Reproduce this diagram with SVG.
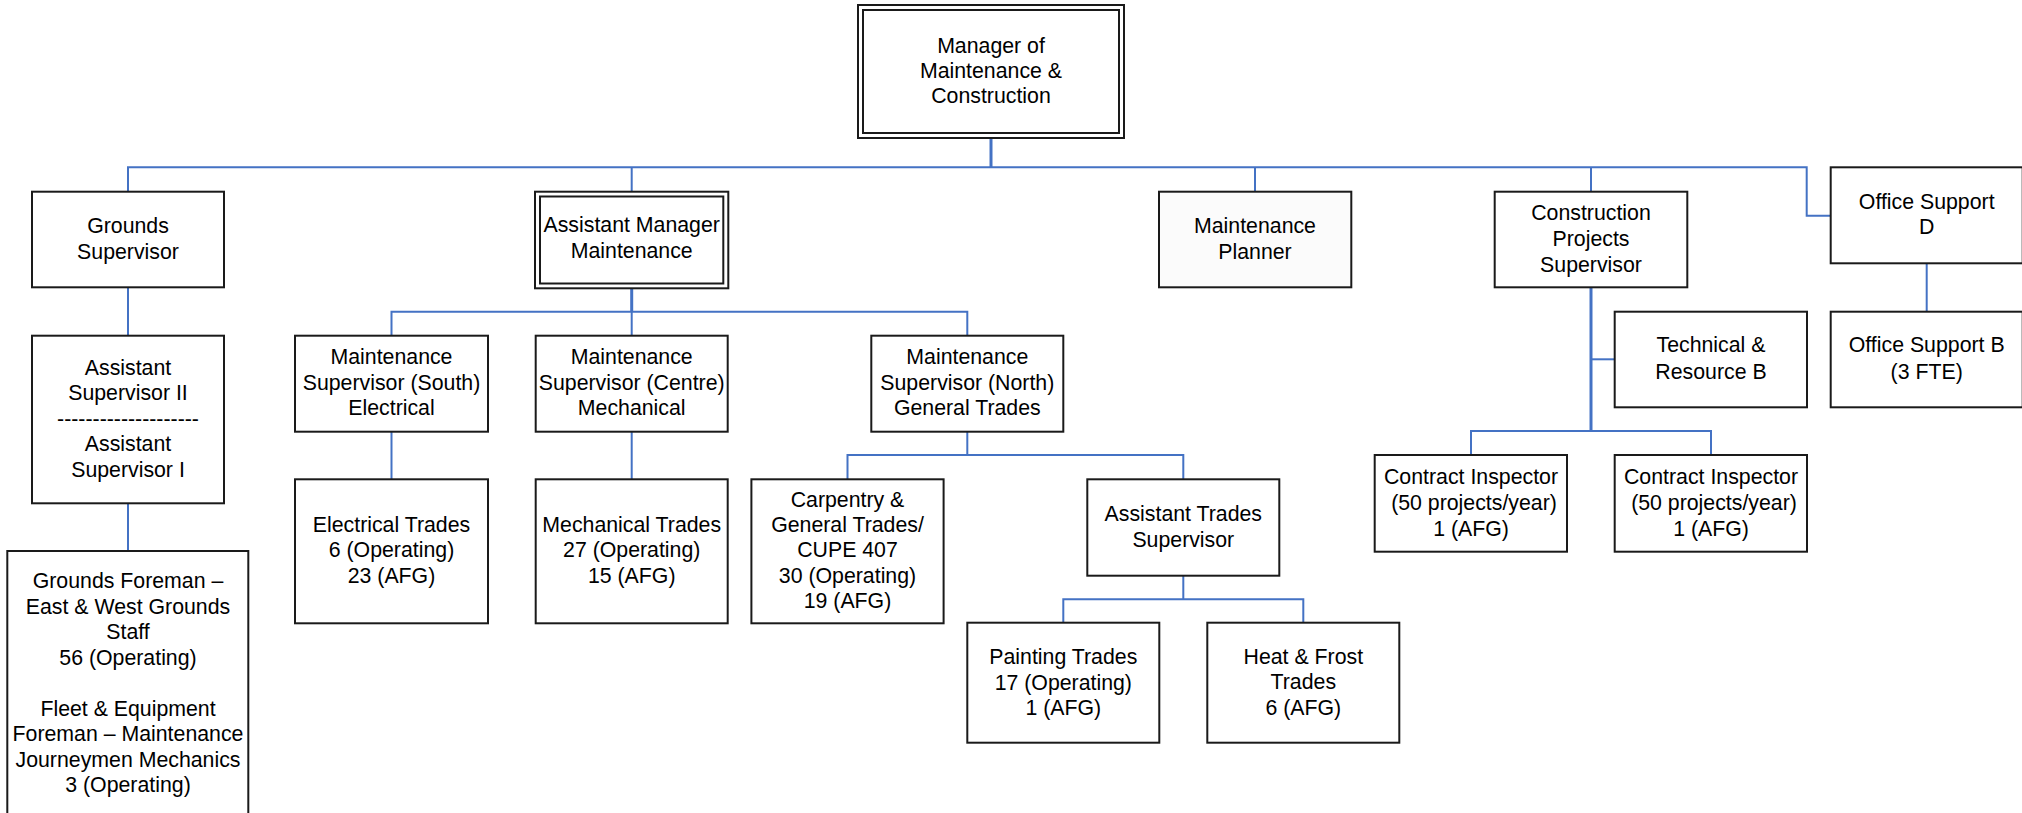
<svg xmlns="http://www.w3.org/2000/svg" width="2022" height="813" viewBox="0 0 2022 813">
<style>
  .box { fill: #ffffff; stroke: #1a1a1a; stroke-width: 2; }
  .planner { fill: #fbfbfb; stroke: #1a1a1a; stroke-width: 2; }
  .t { font-family: "Liberation Sans", Arial, sans-serif; font-size: 21.3px; fill: #000000; text-anchor: middle; }
  .c { fill: none; stroke: #4472C4; stroke-width: 2; }
  .c3 { fill: none; stroke: #4472C4; stroke-width: 3; }
</style>
<rect width="2022" height="813" fill="#ffffff"/>

<g id="connectors">
  <path class="c3" d="M991 138 V167.3"/>
  <path class="c" d="M128 192 V167.3 H1806.7 V215.7 H1830.7"/>
  <path class="c" d="M631.7 167.3 V192"/>
  <path class="c" d="M1255 167.3 V192"/>
  <path class="c" d="M1591 167.3 V192"/>
  <path class="c" d="M128 287.3 V335.7"/>
  <path class="c" d="M128 503.3 V551"/>
  <path class="c3" d="M631.7 288.3 V311.7"/>
  <path class="c" d="M391.5 335.7 V311.7 H967.3 V335.7"/>
  <path class="c" d="M631.7 311.7 V335.7"/>
  <path class="c" d="M391.5 431.7 V479.3"/>
  <path class="c" d="M631.7 431.7 V479.3"/>
  <path class="c" d="M967.3 431.7 V455"/>
  <path class="c" d="M847.5 479.3 V455 H1183.3 V479.3"/>
  <path class="c" d="M1183.3 575.7 V599.3"/>
  <path class="c" d="M1063.3 622.7 V599.3 H1303.3 V622.7"/>
  <path class="c3" d="M1591 287.3 V431"/>
  <path class="c" d="M1591 359.3 H1614.7"/>
  <path class="c" d="M1471 455 V431 H1711 V455"/>
  <path class="c" d="M1926.7 263.3 V311.7"/>
</g>

<g id="manager">
  <rect class="box" x="858" y="5" width="266" height="133"/>
  <rect class="box" x="863" y="10" width="256" height="123"/>
  <text class="t" x="991" y="52.7">Manager of</text>
  <text class="t" x="991" y="78">Maintenance &amp;</text>
  <text class="t" x="991" y="103.3">Construction</text>
</g>

<g id="grounds-supervisor">
  <rect class="box" x="32" y="191.7" width="192" height="95.6"/>
  <text class="t" x="128" y="232.7">Grounds</text>
  <text class="t" x="128" y="258.7">Supervisor</text>
</g>

<g id="assistant-supervisor">
  <rect class="box" x="32" y="335.7" width="192" height="167.6"/>
  <text class="t" x="128" y="374.5">Assistant</text>
  <text class="t" x="128" y="400">Supervisor II</text>
  <text class="t" x="128" y="425.5">--------------------</text>
  <text class="t" x="128" y="451">Assistant</text>
  <text class="t" x="128" y="476.5">Supervisor I</text>
</g>

<g id="grounds-foreman">
  <rect class="box" x="7.3" y="551" width="241" height="290"/>
  <text class="t" x="128" y="588">Grounds Foreman –</text>
  <text class="t" x="128" y="613.5">East &amp; West Grounds</text>
  <text class="t" x="128" y="639">Staff</text>
  <text class="t" x="128" y="664.5">56 (Operating)</text>
  <text class="t" x="128" y="715.5">Fleet &amp; Equipment</text>
  <text class="t" x="128" y="741">Foreman – Maintenance</text>
  <text class="t" x="128" y="766.5">Journeymen Mechanics</text>
  <text class="t" x="128" y="792">3 (Operating)</text>
</g>

<g id="assistant-manager">
  <rect class="box" x="535" y="191.7" width="193.3" height="96.6"/>
  <rect class="box" x="540" y="196.5" width="183.3" height="87"/>
  <text class="t" x="631.7" y="232.3">Assistant Manager</text>
  <text class="t" x="631.7" y="258.3">Maintenance</text>
</g>

<g id="maintenance-planner">
  <rect class="planner" x="1159" y="191.7" width="192.3" height="95.6"/>
  <text class="t" x="1255" y="232.7">Maintenance</text>
  <text class="t" x="1255" y="258.7">Planner</text>
</g>

<g id="construction-supervisor">
  <rect class="box" x="1494.7" y="191.7" width="192.6" height="95.6"/>
  <text class="t" x="1591" y="220">Construction</text>
  <text class="t" x="1591" y="246">Projects</text>
  <text class="t" x="1591" y="271.7">Supervisor</text>
</g>

<g id="office-support-d">
  <rect class="box" x="1830.7" y="167.3" width="192" height="96"/>
  <text class="t" x="1926.7" y="209">Office Support</text>
  <text class="t" x="1926.7" y="234.3">D</text>
</g>

<g id="office-support-b">
  <rect class="box" x="1830.7" y="311.7" width="192" height="95.6"/>
  <text class="t" x="1926.7" y="352.3">Office Support B</text>
  <text class="t" x="1926.7" y="379">(3 FTE)</text>
</g>

<g id="technical-resource">
  <rect class="box" x="1614.7" y="311.7" width="192.3" height="95.6"/>
  <text class="t" x="1711" y="352.3">Technical &amp;</text>
  <text class="t" x="1711" y="379">Resource B</text>
</g>

<g id="contract-inspector-1">
  <rect class="box" x="1374.7" y="455" width="192.3" height="96.7"/>
  <text class="t" x="1471" y="484">Contract Inspector</text>
  <text class="t" x="1474" y="510">(50 projects/year)</text>
  <text class="t" x="1471" y="535.7">1 (AFG)</text>
</g>

<g id="contract-inspector-2">
  <rect class="box" x="1614.7" y="455" width="192.3" height="96.7"/>
  <text class="t" x="1711" y="484">Contract Inspector</text>
  <text class="t" x="1714" y="510">(50 projects/year)</text>
  <text class="t" x="1711" y="535.7">1 (AFG)</text>
</g>

<g id="supervisor-south">
  <rect class="box" x="295" y="335.7" width="193" height="96"/>
  <text class="t" x="391.5" y="364">Maintenance</text>
  <text class="t" x="391.5" y="389.7">Supervisor (South)</text>
  <text class="t" x="391.5" y="415">Electrical</text>
</g>

<g id="supervisor-centre">
  <rect class="box" x="535.7" y="335.7" width="192" height="96"/>
  <text class="t" x="631.7" y="364">Maintenance</text>
  <text class="t" x="631.7" y="389.7">Supervisor (Centre)</text>
  <text class="t" x="631.7" y="415">Mechanical</text>
</g>

<g id="supervisor-north">
  <rect class="box" x="871.3" y="335.7" width="192" height="96"/>
  <text class="t" x="967.3" y="364">Maintenance</text>
  <text class="t" x="967.3" y="389.7">Supervisor (North)</text>
  <text class="t" x="967.3" y="415">General Trades</text>
</g>

<g id="electrical-trades">
  <rect class="box" x="295" y="479.3" width="193" height="144"/>
  <text class="t" x="391.5" y="531.7">Electrical Trades</text>
  <text class="t" x="391.5" y="557.2">6 (Operating)</text>
  <text class="t" x="391.5" y="582.5">23 (AFG)</text>
</g>

<g id="mechanical-trades">
  <rect class="box" x="535.7" y="479.3" width="192" height="144"/>
  <text class="t" x="631.7" y="531.7">Mechanical Trades</text>
  <text class="t" x="631.7" y="557.2">27 (Operating)</text>
  <text class="t" x="631.7" y="582.5">15 (AFG)</text>
</g>

<g id="carpentry">
  <rect class="box" x="751.4" y="479.3" width="192.2" height="144"/>
  <text class="t" x="847.5" y="506.7">Carpentry &amp;</text>
  <text class="t" x="847.5" y="532">General Trades/</text>
  <text class="t" x="847.5" y="557.3">CUPE 407</text>
  <text class="t" x="847.5" y="582.6">30 (Operating)</text>
  <text class="t" x="847.5" y="607.9">19 (AFG)</text>
</g>

<g id="assistant-trades-supervisor">
  <rect class="box" x="1087.3" y="479.3" width="192" height="96.4"/>
  <text class="t" x="1183.3" y="520.7">Assistant Trades</text>
  <text class="t" x="1183.3" y="546.7">Supervisor</text>
</g>

<g id="painting-trades">
  <rect class="box" x="967.3" y="622.7" width="192" height="120"/>
  <text class="t" x="1063.3" y="664">Painting Trades</text>
  <text class="t" x="1063.3" y="689.7">17 (Operating)</text>
  <text class="t" x="1063.3" y="715">1 (AFG)</text>
</g>

<g id="heat-frost-trades">
  <rect class="box" x="1207.3" y="622.7" width="192" height="120"/>
  <text class="t" x="1303.3" y="663.5">Heat &amp; Frost</text>
  <text class="t" x="1303.3" y="689.3">Trades</text>
  <text class="t" x="1303.3" y="714.5">6 (AFG)</text>
</g>
</svg>
